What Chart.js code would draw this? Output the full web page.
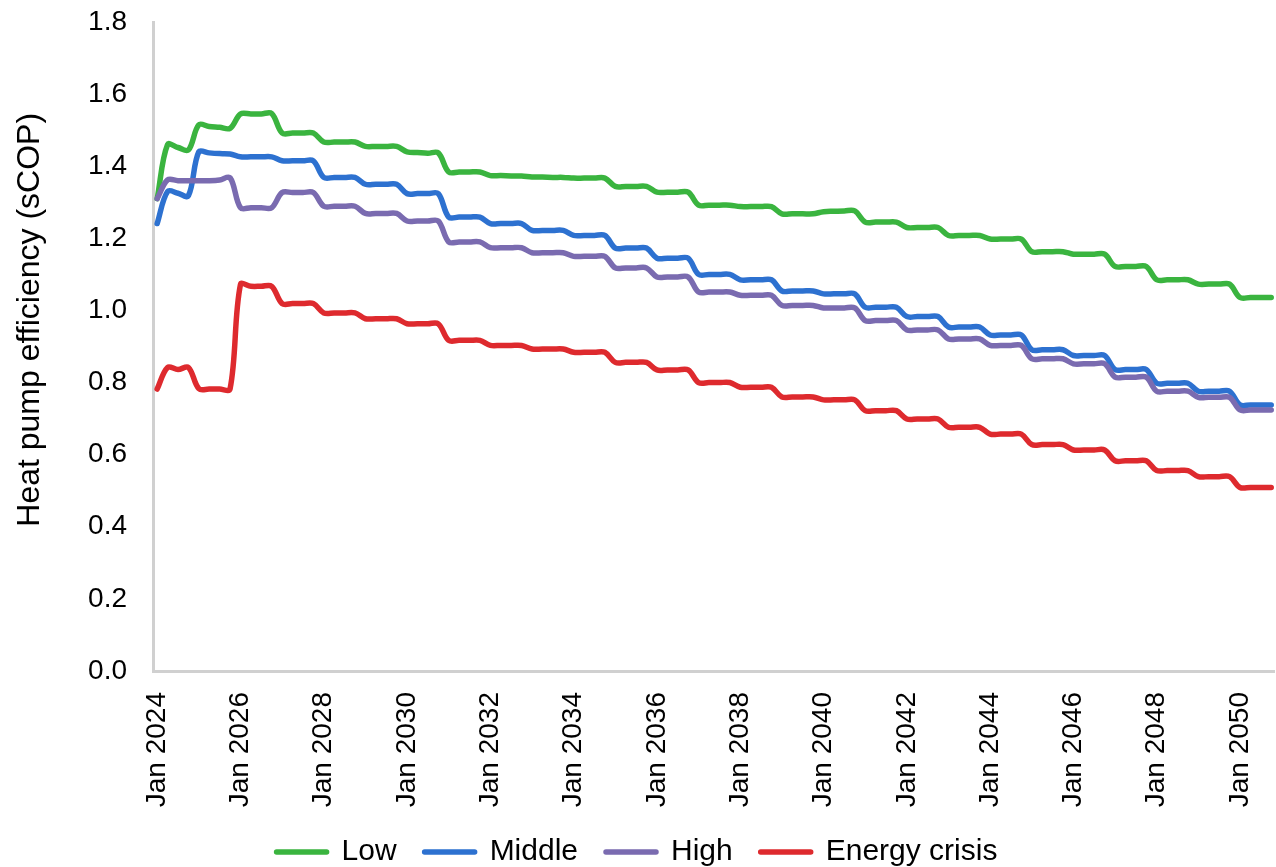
<!DOCTYPE html>
<html>
<head>
<meta charset="utf-8">
<title>Heat pump efficiency (sCOP)</title>
<script src="https://cdn.jsdelivr.net/npm/chart.js@4/dist/chart.umd.min.js"></script>
<style>
  html, body { margin: 0; padding: 0; background: #ffffff; }
  #wrap { width: 1276px; height: 867px; }
</style>
</head>
<body>
<div id="wrap"><canvas id="chart" width="1276" height="867"></canvas></div>
<script>
// Quarterly series, Jan 2024 – Oct 2050 (one row per year: Jan, Apr, Jul, Oct)
const years = [2024, 2025, 2026, 2027, 2028, 2029, 2030, 2031, 2032, 2033, 2034, 2035, 2036, 2037,
               2038, 2039, 2040, 2041, 2042, 2043, 2044, 2045, 2046, 2047, 2048, 2049, 2050];
const quarterMonths = [0, 3, 6, 9]; // Jan, Apr, Jul, Oct

const low = [
  1.310, 1.460, 1.452, 1.445,   1.515, 1.510, 1.508, 1.505,   1.545, 1.545, 1.545, 1.546,
  1.492, 1.492, 1.492, 1.492,   1.467, 1.467, 1.467, 1.467,   1.455, 1.455, 1.455, 1.455,
  1.440, 1.438, 1.436, 1.437,   1.384, 1.384, 1.384, 1.384,   1.374, 1.374, 1.373, 1.373,
  1.370, 1.370, 1.369, 1.369,   1.367, 1.367, 1.367, 1.367,   1.344, 1.344, 1.344, 1.344,
  1.328, 1.328, 1.328, 1.328,   1.292, 1.292, 1.292, 1.292,   1.288, 1.288, 1.288, 1.288,
  1.268, 1.268, 1.268, 1.268,   1.274, 1.275, 1.276, 1.276,   1.245, 1.245, 1.245, 1.245,
  1.230, 1.230, 1.230, 1.230,   1.208, 1.208, 1.208, 1.208,   1.198, 1.198, 1.198, 1.198,
  1.163, 1.163, 1.163, 1.163,   1.156, 1.156, 1.156, 1.156,   1.122, 1.122, 1.122, 1.122,
  1.085, 1.085, 1.085, 1.085,   1.073, 1.073, 1.073, 1.073,   1.036, 1.036, 1.036, 1.036
];

const middle = [
  1.241, 1.330, 1.325, 1.318,   1.440, 1.437, 1.435, 1.434,   1.426, 1.426, 1.426, 1.426,
  1.415, 1.415, 1.415, 1.415,   1.369, 1.369, 1.369, 1.369,   1.350, 1.350, 1.350, 1.350,
  1.324, 1.324, 1.324, 1.324,   1.259, 1.259, 1.259, 1.259,   1.241, 1.241, 1.241, 1.241,
  1.222, 1.222, 1.222, 1.222,   1.208, 1.208, 1.208, 1.208,   1.173, 1.173, 1.173, 1.173,
  1.145, 1.145, 1.145, 1.145,   1.100, 1.100, 1.100, 1.100,   1.085, 1.085, 1.085, 1.085,
  1.054, 1.054, 1.054, 1.054,   1.046, 1.046, 1.046, 1.046,   1.009, 1.009, 1.009, 1.009,
  0.983, 0.983, 0.983, 0.983,   0.954, 0.954, 0.954, 0.954,   0.932, 0.932, 0.932, 0.932,
  0.891, 0.891, 0.891, 0.891,   0.875, 0.875, 0.875, 0.875,   0.836, 0.836, 0.836, 0.836,
  0.798, 0.798, 0.798, 0.798,   0.776, 0.776, 0.776, 0.776,   0.738, 0.738, 0.738, 0.738
];

const high = [
  1.310, 1.362, 1.360, 1.360,   1.360, 1.360, 1.362, 1.368,   1.285, 1.285, 1.285, 1.285,
  1.327, 1.327, 1.327, 1.327,   1.289, 1.289, 1.289, 1.289,   1.269, 1.269, 1.269, 1.269,
  1.248, 1.248, 1.248, 1.248,   1.190, 1.190, 1.190, 1.190,   1.174, 1.174, 1.174, 1.174,
  1.160, 1.160, 1.160, 1.160,   1.150, 1.150, 1.150, 1.150,   1.118, 1.118, 1.118, 1.118,
  1.093, 1.093, 1.093, 1.093,   1.051, 1.051, 1.051, 1.051,   1.042, 1.042, 1.042, 1.042,
  1.014, 1.014, 1.014, 1.014,   1.007, 1.007, 1.007, 1.007,   0.972, 0.972, 0.972, 0.972,
  0.946, 0.946, 0.946, 0.946,   0.921, 0.921, 0.921, 0.921,   0.903, 0.903, 0.903, 0.903,
  0.866, 0.866, 0.866, 0.866,   0.852, 0.852, 0.852, 0.852,   0.815, 0.815, 0.815, 0.815,
  0.776, 0.776, 0.776, 0.776,   0.759, 0.759, 0.759, 0.759,   0.724, 0.724, 0.724, 0.724
];

const energyCrisis = [
  0.782, 0.842, 0.836, 0.842,   0.783, 0.782, 0.782, 0.782,   1.072, 1.067, 1.067, 1.067,
  1.019, 1.019, 1.019, 1.019,   0.993, 0.993, 0.993, 0.993,   0.977, 0.977, 0.977, 0.977,
  0.963, 0.963, 0.963, 0.963,   0.917, 0.917, 0.917, 0.917,   0.903, 0.903, 0.903, 0.903,
  0.893, 0.893, 0.893, 0.893,   0.884, 0.884, 0.884, 0.884,   0.856, 0.856, 0.856, 0.856,
  0.835, 0.835, 0.835, 0.835,   0.800, 0.800, 0.800, 0.800,   0.787, 0.787, 0.787, 0.787,
  0.760, 0.760, 0.760, 0.760,   0.752, 0.752, 0.752, 0.752,   0.722, 0.722, 0.722, 0.722,
  0.699, 0.699, 0.699, 0.699,   0.676, 0.676, 0.676, 0.676,   0.657, 0.657, 0.657, 0.657,
  0.628, 0.628, 0.628, 0.628,   0.613, 0.613, 0.613, 0.613,   0.583, 0.583, 0.583, 0.583,
  0.556, 0.556, 0.556, 0.556,   0.539, 0.539, 0.539, 0.539,   0.509, 0.509, 0.509, 0.509
];

const seriesNames  = ['Low', 'Middle', 'High', 'Energy crisis'];
const seriesColors = ['#3AB43F', '#2D71D0', '#7A6BB0', '#DE2A2E'];

// Axis ticks
const xTickYears  = [2024, 2026, 2028, 2030, 2032, 2034, 2036, 2038, 2040, 2042, 2044, 2046, 2048, 2050];
const xTickLabels = xTickYears.map(y => 'Jan ' + y);
const yTicks      = [0, 0.2, 0.4, 0.6, 0.8, 1.0, 1.2, 1.4, 1.6, 1.8];

// Months elapsed since Jan 2024 for each quarterly observation
const monthIndex = [];
years.forEach(y => quarterMonths.forEach(m => monthIndex.push((y - 2024) * 12 + m)));

const toPoints = values => values.map((v, i) => ({ x: monthIndex[i], y: v }));

const FONT = "'Liberation Sans', Arial, Helvetica, sans-serif";
Chart.defaults.font.family = FONT;
Chart.defaults.color = '#000000';

const seriesData = [low, middle, high, energyCrisis];
const datasets = seriesData.map((vals, i) => ({
  label: seriesNames[i],
  data: toPoints(vals),
  borderColor: seriesColors[i],
  backgroundColor: seriesColors[i],
  borderWidth: 5.5,
  pointRadius: 0,
  pointHoverRadius: 0,
  tension: 0.35,
  borderCapStyle: 'round',
  borderJoinStyle: 'round',
  fill: false,
  order: seriesData.length - 1 - i
}));

new Chart(document.getElementById('chart'), {
  type: 'line',
  data: { datasets },
  options: {
    responsive: false,
    animation: false,
    layout: { padding: { top: 22, right: 2, bottom: -10, left: 0 } },
    plugins: {
      tooltip: { enabled: false },
      legend: {
        position: 'bottom',
        labels: {
          boxWidth: 50,
          boxHeight: 0,
          padding: 28,
          color: '#000000',
          font: { size: 30, family: FONT },
          sort: (a, b) => a.datasetIndex - b.datasetIndex
        }
      }
    },
    scales: {
      x: {
        type: 'linear',
        min: -1.2,
        max: 321.8,
        afterBuildTicks: s => { s.ticks = xTickYears.map(y => ({ value: (y - 2024) * 12 })); },
        afterFit: s => { s.height = 138; s.paddingLeft = 0; s.paddingRight = 0; },
        ticks: {
          autoSkip: false,
          minRotation: 90,
          maxRotation: 90,
          padding: 21,
          color: '#000000',
          font: { size: 28, family: FONT },
          callback: (v, i) => xTickLabels[i]
        },
        grid: { display: false, drawTicks: false },
        border: { display: true, color: '#d0d0d0', width: 3 }
      },
      y: {
        min: 0,
        max: 1.8,
        afterBuildTicks: s => { s.ticks = yTicks.map(v => ({ value: v })); },
        afterFit: s => { s.width = 153; s.paddingTop = 0; s.paddingBottom = 0; },
        ticks: {
          padding: 26,
          color: '#000000',
          font: { size: 28, family: FONT },
          callback: (v, i) => yTicks[i].toFixed(1)
        },
        title: {
          display: true,
          // leading spaces lift the rotated caption slightly above the axis midpoint
          text: '      Heat pump efficiency (sCOP)',
          color: '#000000',
          font: { size: 32, family: FONT },
          padding: { top: 11, bottom: 0 }
        },
        grid: { display: false, drawTicks: false },
        border: { display: true, color: '#d0d0d0', width: 3 }
      }
    }
  }
});
</script>
</body>
</html>
